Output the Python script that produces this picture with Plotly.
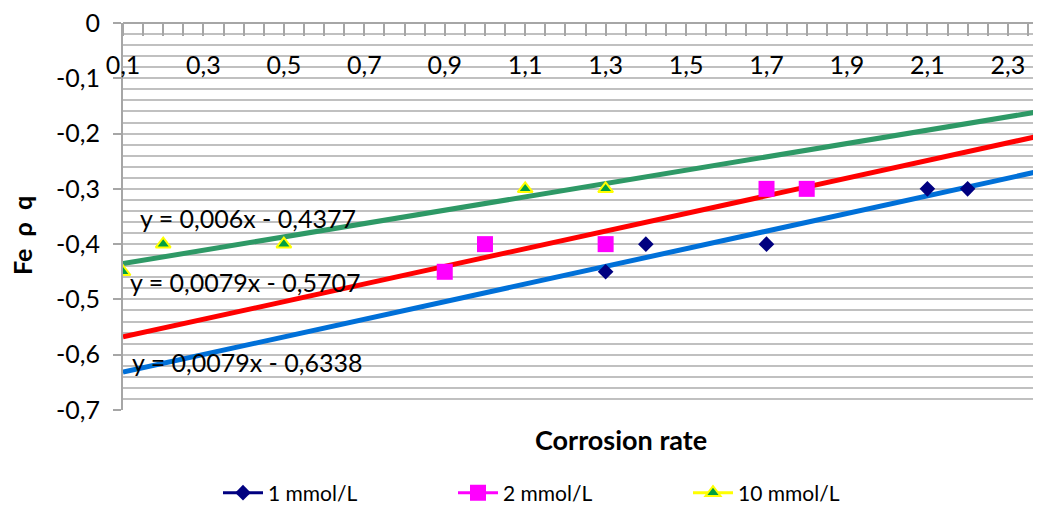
import numpy as np
import plotly.graph_objects as go

# ---- data ----
x_1mmol = [1.3, 1.4, 1.7, 2.1, 2.2]
y_1mmol = [-0.45, -0.40, -0.40, -0.30, -0.30]
x_2mmol = [0.9, 1.0, 1.3, 1.7, 1.8]
y_2mmol = [-0.45, -0.40, -0.40, -0.30, -0.30]
x_10mmol = [0.1, 0.2, 0.5, 1.1, 1.3]
y_10mmol = [-0.45, -0.40, -0.40, -0.30, -0.30]

series_names = ["1 mmol/L", "2 mmol/L", "10 mmol/L"]
equations = ["y = 0,0079x - 0,6338", "y = 0,0079x - 0,5707", "y = 0,006x - 0,4377"]

x_tickvals = [0.1, 0.3, 0.5, 0.7, 0.9, 1.1, 1.3, 1.5, 1.7, 1.9, 2.1, 2.3]
x_ticktext = ["0,1", "0,3", "0,5", "0,7", "0,9", "1,1", "1,3", "1,5", "1,7", "1,9", "2,1", "2,3"]
y_tickvals = [0, -0.1, -0.2, -0.3, -0.4, -0.5, -0.6, -0.7]
y_ticktext = ["0", "-0,1", "-0,2", "-0,3", "-0,4", "-0,5", "-0,6", "-0,7"]

X_RANGE = [0.1, 2.38]
Y_RANGE = [-0.7, 0.0]

FONT = "Lato, 'Open Sans', sans-serif"
GRID = "#C0C0C0"
AXC = "#A6A6A6"

# page body has an 8px margin: the figure starts at (8, 8) of the window
OFF = 8
W, H = 1041 - OFF, 508 - OFF
L, R, T, B = 123 - OFF, 1, 23 - OFF, 98
pw, ph = W - L - R, H - T - B


def px_to_paper(px, py):
    """window pixel -> paper coordinates"""
    return (px - OFF - L) / pw, (H - B - (py - OFF)) / ph


fig = go.Figure()

trend_colors = ["#0070D8", "#FF0000", "#2E9966"]
series = [
    (x_1mmol, y_1mmol, dict(symbol="diamond", size=12, color="#000080"), "#000080"),
    (x_2mmol, y_2mmol, dict(symbol="square", size=16, color="#FF00FF"), "#FF00FF"),
    (x_10mmol, y_10mmol, dict(symbol="triangle-up", size=13, color="#00A040",
                              line=dict(color="#FFFF00", width=2)), "#FFFF00"),
]

# trendlines (least squares fit of each series, extended over the axis range)
for (xs, ys, mk, lc), tc in zip(series, trend_colors):
    slope, intercept = np.polyfit(xs, ys, 1)
    xl = np.array(X_RANGE)
    fig.add_trace(go.Scatter(x=xl, y=slope * xl + intercept, mode="lines",
                             line=dict(color=tc, width=5), showlegend=False,
                             hoverinfo="skip"))

# markers
for (xs, ys, mk, lc), name in zip(series, series_names):
    fig.add_trace(go.Scatter(x=xs, y=ys, mode="markers", marker=mk,
                             name=name, showlegend=False))

# legend entries (line + marker, as in the original legend)
for (xs, ys, mk, lc), name in zip(series, series_names):
    fig.add_trace(go.Scatter(x=[None], y=[None], mode="lines+markers", marker=mk,
                             line=dict(color=lc, width=3), name=name, showlegend=True))

# equation labels (positions in window pixels)
eq_px = [(130, 362), (128, 282), (138, 218)]
for (ex, ey), txt in zip(eq_px, equations):
    px, py = px_to_paper(ex, ey)
    fig.add_annotation(x=px, y=py, xref="paper", yref="paper", text=txt, showarrow=False,
                       xanchor="left", yanchor="middle",
                       font=dict(family=FONT, size=25, color="#000000"))

# axis titles
ax, ay = px_to_paper(621, 440)
fig.add_annotation(x=ax, y=ay, xref="paper", yref="paper", text="<b>Corrosion rate</b>",
                   showarrow=False, xanchor="center", yanchor="middle",
                   font=dict(family=FONT, size=27, color="#000000"))
bx, by = px_to_paper(22, 236)
fig.add_annotation(x=bx, y=by, xref="paper", yref="paper", text="<b>Fe  ρ  q</b>",
                   showarrow=False, textangle=-90, xanchor="center", yanchor="middle",
                   font=dict(family=FONT, size=25, color="#000000"))

lx, ly = px_to_paper(218, 493)

fig.update_layout(
    width=W, height=H,
    margin=dict(l=L, r=R, t=T, b=B, autoexpand=False),
    paper_bgcolor="white", plot_bgcolor="white",
    font=dict(family=FONT, size=25, color="#000000"),
    legend=dict(orientation="h", x=lx, y=ly, xanchor="left", yanchor="middle",
                font=dict(family=FONT, size=21, color="#000000"),
                entrywidth=180, entrywidthmode="pixels", itemwidth=40,
                bgcolor="rgba(0,0,0,0)", tracegroupgap=0),
    xaxis=dict(range=X_RANGE, side="bottom", anchor="free", position=1,
               automargin=False, ticklabeloverflow="allow",
               tickvals=x_tickvals, ticktext=x_ticktext,
               ticks="outside", ticklen=12, tickcolor=AXC, tickwidth=2,
               minor=dict(ticks="outside", ticklen=12, tick0=0.1, dtick=0.05,
                          tickcolor=AXC, tickwidth=2, showgrid=False),
               ticklabelstandoff=8,
               showline=True, linecolor=AXC, linewidth=2,
               showgrid=False, zeroline=False,
               tickfont=dict(family=FONT, size=25, color="#000000")),
    yaxis=dict(range=Y_RANGE, tickvals=y_tickvals, ticktext=y_ticktext,
               automargin=False, ticklabeloverflow="allow",
               ticks="outside", ticklen=8, tickcolor=AXC, tickwidth=2,
               showline=True, linecolor=AXC, linewidth=2,
               showgrid=True, gridcolor=GRID, gridwidth=2, zeroline=False,
               minor=dict(dtick=0.02, tick0=0, showgrid=True, gridcolor=GRID, gridwidth=2),
               ticklabelstandoff=8,
               tickfont=dict(family=FONT, size=25, color="#000000")),
)

fig.write_html("out.html")
